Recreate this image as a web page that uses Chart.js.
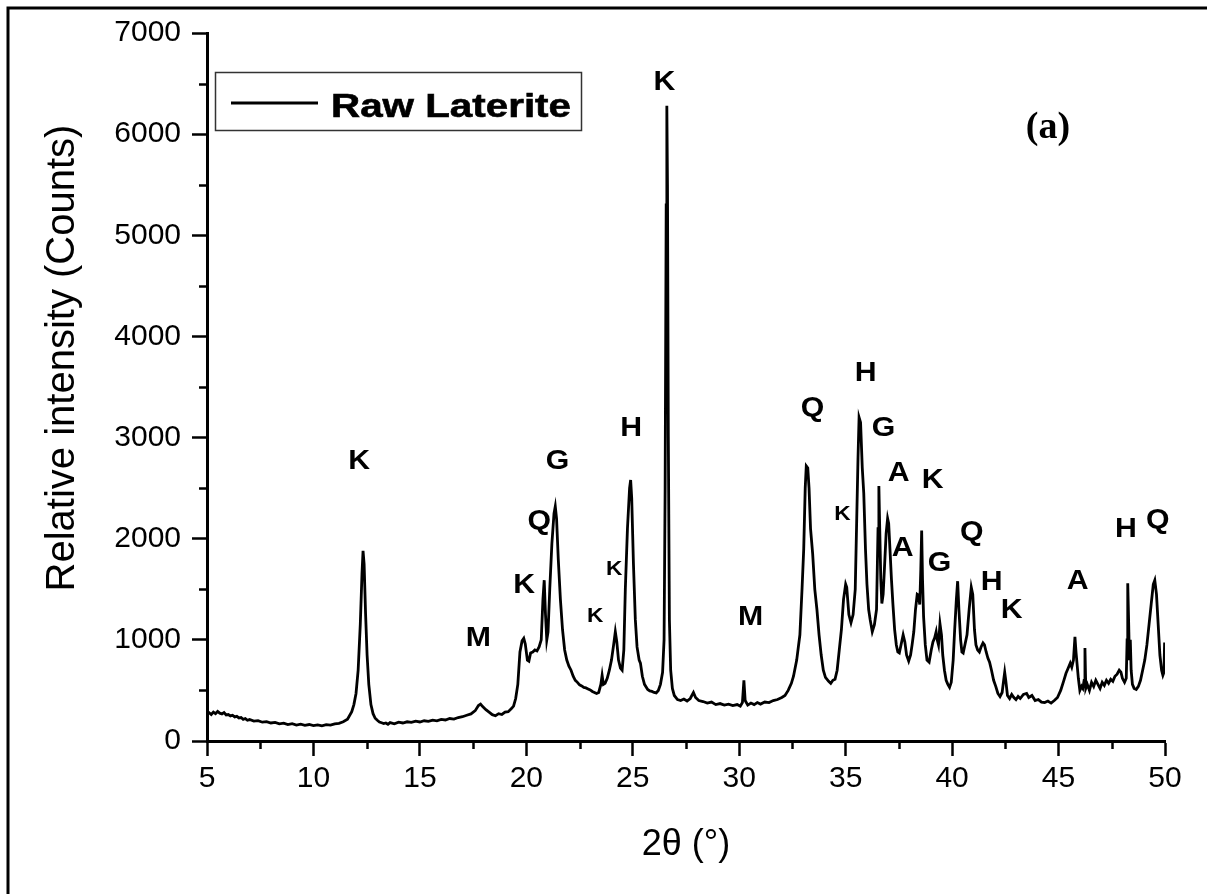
<!DOCTYPE html>
<html><head><meta charset="utf-8">
<script src="https://cdn.jsdelivr.net/npm/chart.js@4.4.0/dist/chart.umd.min.js"></script>
<style>html,body{margin:0;padding:0;background:#fff;}#wrap{width:1207px;height:894px;position:relative;}</style>
</head><body><div id="wrap"><canvas id="c" width="1207" height="894"></canvas></div>
<script>
const seriesName = 'Raw Laterite';
const xTitle = '2\u03B8 (\u00B0)';
const yTitle = 'Relative intensity (Counts)';
const panelTag = '(a)';

const twoTheta = [
5.0,5.1,5.2,5.3,5.4,5.5,5.6,5.7,5.8,5.9,
6.0,6.1,6.2,6.3,6.4,6.5,6.6,6.7,6.8,6.9,
7.0,7.2,7.4,7.6,7.8,8.0,8.2,8.4,8.6,8.8,
9.0,9.2,9.4,9.6,9.8,10.0,10.2,10.4,10.6,10.8,
11.0,11.2,11.4,11.6,11.8,11.9,12.0,12.1,12.2,12.28,
12.33,12.38,12.45,12.52,12.6,12.7,12.8,12.9,13.0,13.1,
13.2,13.3,13.4,13.5,13.6,13.8,14.0,14.2,14.4,14.6,
14.8,15.0,15.2,15.4,15.6,15.8,16.0,16.2,16.4,16.6,
16.8,17.0,17.2,17.4,17.6,17.75,17.85,17.95,18.1,18.25,
18.4,18.55,18.7,18.85,19.0,19.15,19.3,19.4,19.5,19.6,
19.7,19.8,19.88,19.95,20.05,20.12,20.2,20.3,20.4,20.5,
20.6,20.7,20.78,20.84,20.9,20.96,21.02,21.1,21.2,21.3,
21.36,21.42,21.5,21.6,21.7,21.8,21.9,22.0,22.1,22.2,
22.3,22.4,22.5,22.6,22.7,22.8,22.9,23.0,23.1,23.2,
23.3,23.4,23.5,23.56,23.62,23.7,23.8,23.9,24.0,24.1,
24.18,24.25,24.33,24.42,24.5,24.58,24.65,24.75,24.85,24.9,
24.95,25.03,25.12,25.2,25.3,25.36,25.45,25.55,25.7,25.8,
25.9,26.0,26.1,26.2,26.3,26.4,26.47,26.52,26.57,26.6,
26.63,26.67,26.72,26.78,26.86,26.95,27.1,27.25,27.4,27.55,
27.7,27.85,27.95,28.1,28.3,28.5,28.7,28.9,29.1,29.3,
29.5,29.7,29.9,30.05,30.15,30.22,30.28,30.4,30.55,30.7,
30.85,31.0,31.2,31.4,31.6,31.8,32.0,32.15,32.3,32.45,
32.55,32.7,32.85,32.95,33.03,33.1,33.15,33.22,33.28,33.35,
33.45,33.55,33.65,33.75,33.85,33.95,34.05,34.2,34.3,34.4,
34.5,34.6,34.7,34.8,34.9,35.0,35.05,35.15,35.25,35.35,
35.45,35.52,35.58,35.63,35.7,35.78,35.85,35.93,36.0,36.08,
36.15,36.25,36.35,36.45,36.52,36.56,36.6,36.65,36.7,36.76,
36.82,36.9,36.97,37.02,37.08,37.15,37.22,37.3,37.38,37.45,
37.52,37.6,37.7,37.78,37.86,37.96,38.05,38.12,38.2,38.28,
38.36,38.42,38.48,38.53,38.57,38.61,38.66,38.74,38.82,38.92,
39.02,39.1,39.18,39.25,39.3,39.36,39.43,39.5,39.56,39.64,
39.72,39.8,39.88,39.96,40.05,40.12,40.2,40.26,40.32,40.4,
40.46,40.52,40.6,40.7,40.8,40.9,40.97,41.05,41.12,41.2,
41.28,41.36,41.45,41.52,41.6,41.68,41.76,41.85,41.95,42.05,
42.15,42.25,42.35,42.42,42.47,42.52,42.6,42.7,42.8,42.9,
43.0,43.1,43.2,43.35,43.5,43.6,43.75,43.9,44.05,44.2,
44.35,44.5,44.65,44.8,44.95,45.1,45.25,45.35,45.45,45.55,
45.62,45.7,45.77,45.82,45.87,45.93,46.0,46.08,46.14,46.2,
46.24,46.28,46.35,46.45,46.55,46.65,46.75,46.85,46.95,47.05,
47.15,47.25,47.35,47.45,47.55,47.65,47.75,47.85,47.93,48.0,
48.1,48.18,48.22,48.25,48.29,48.33,48.37,48.41,48.47,48.55,
48.65,48.75,48.85,48.95,49.05,49.15,49.25,49.35,49.45,49.52,
49.6,49.68,49.76,49.84,49.9,49.95,49.98,50.0
];

const counts = [
265,280,262,285,270,292,275,268,282,258,
262,248,255,238,244,228,232,214,222,205,
212,196,202,186,192,178,184,170,176,162,
171,158,166,155,163,152,160,150,162,158,
170,175,190,215,290,360,470,700,1150,1650,
1880,1750,1250,850,560,360,270,225,205,188,
180,172,178,165,182,170,186,178,190,184,
196,188,200,194,206,200,214,208,222,216,
232,240,255,268,300,350,365,340,310,285,
260,250,270,262,285,290,320,345,420,560,
880,990,1015,960,800,790,870,880,900,890,
930,1000,1400,1590,1250,1000,1080,1500,1950,2250,
2320,2200,1800,1400,1100,900,800,740,700,640,
600,580,555,545,530,525,515,505,490,480,
470,480,560,650,560,570,620,700,800,950,
1080,980,800,720,700,900,1500,2100,2500,2580,
2400,1760,1200,930,800,770,640,560,510,495,
490,480,475,500,560,680,1000,2500,5300,6280,
5500,3000,1200,700,520,450,410,400,415,395,
420,480,430,400,390,375,385,360,370,355,
365,350,360,345,380,600,400,355,375,360,
380,365,385,380,400,410,430,450,500,570,
640,800,1050,1500,1900,2500,2720,2700,2500,2100,
1850,1500,1300,1050,850,700,630,590,570,600,
610,700,900,1100,1400,1550,1520,1250,1170,1250,
1500,2200,2800,3200,3150,2700,2450,1900,1550,1300,
1200,1080,1150,1300,2100,2520,2100,1600,1360,1450,
1700,2050,2200,2150,1900,1600,1350,1100,950,880,
870,950,1050,980,850,790,850,950,1080,1300,
1450,1440,1350,1700,2080,1600,1230,950,800,780,
900,980,1020,1080,1000,950,1160,1050,850,700,
600,560,530,580,800,1100,1400,1580,1300,1000,
880,870,950,1050,1300,1520,1450,1100,950,900,
880,930,970,950,880,820,780,700,600,540,
470,440,480,600,680,600,450,420,460,430,
410,440,420,460,470,430,450,400,410,385,
380,395,375,400,430,500,600,670,720,770,
730,800,1030,880,760,620,500,540,520,600,
920,520,560,500,580,540,600,560,520,580,
550,600,570,610,590,640,660,700,680,620,
580,620,1000,1560,1200,800,1000,700,560,520,
510,540,600,700,800,950,1150,1350,1550,1590,
1450,1150,850,700,650,680,960,960
];

const xMinorTicks = [7.5,12.5,17.5,22.5,27.5,32.5,37.5,42.5,47.5];
const yMinorTicks = [500,1500,2500,3500,4500,5500,6500];

const peakText = ['K','M','K','Q','G','K','K','H','K','M','Q','K','H','G','A','K','A','G','Q','H','K','A','H','Q'];
const peakX = [12.15,17.74,19.90,20.61,21.46,23.24,24.13,24.93,26.49,30.53,33.44,34.85,35.94,36.78,37.49,39.09,37.68,39.41,40.92,41.86,42.80,45.90,48.16,49.66];
const peakY = [2770,1020,1540,2175,2770,1235,1700,3095,6515,1225,3290,2245,3640,3095,2650,2580,1910,1760,2065,1570,1295,1580,2095,2185];
const peakMinor = [false,false,false,false,false,true,true,false,false,false,false,true,false,false,false,false,false,false,false,false,false,false,false,false];

const points = twoTheta.map((t, i) => ({x: t, y: counts[i]}));

const decor = {
  id: 'decor',
  afterDraw(chart) {
    const {ctx, chartArea, scales} = chart;
    const xs = scales.x, ys = scales.y;
    ctx.save();
    ctx.strokeStyle = '#000';
    ctx.lineWidth = 2.5;
    xMinorTicks.forEach(v => {
      const px = Math.round(xs.getPixelForValue(v)) + 0.5;
      ctx.beginPath(); ctx.moveTo(px, chartArea.bottom); ctx.lineTo(px, chartArea.bottom + 8); ctx.stroke();
    });
    yMinorTicks.forEach(v => {
      const py = Math.round(ys.getPixelForValue(v)) + 0.5;
      ctx.beginPath(); ctx.moveTo(chartArea.left, py); ctx.lineTo(chartArea.left - 8, py); ctx.stroke();
    });
    ctx.lineWidth = 3;
    ctx.beginPath(); ctx.moveTo(1207, 8); ctx.lineTo(8, 8); ctx.lineTo(8, 894); ctx.stroke();
    ctx.save();
    ctx.translate(63, 358);
    ctx.rotate(-Math.PI / 2);
    ctx.fillStyle = '#000';
    ctx.font = '40px "Liberation Sans", Arial, sans-serif';
    ctx.textAlign = 'center';
    ctx.textBaseline = 'middle';
    ctx.fillText(yTitle, 0, 0);
    ctx.restore();
    ctx.lineWidth = 1.5;
    ctx.strokeStyle = '#333';
    ctx.strokeRect(215.5, 72.5, 366, 58);
    ctx.strokeStyle = '#000';
    ctx.lineWidth = 3;
    ctx.beginPath(); ctx.moveTo(231, 103); ctx.lineTo(318, 103); ctx.stroke();
    ctx.fillStyle = '#000';
    ctx.font = 'bold 33px "Liberation Sans", Arial, sans-serif';
    ctx.textAlign = 'left';
    ctx.textBaseline = 'alphabetic';
    const w = ctx.measureText(seriesName).width;
    ctx.save();
    ctx.translate(331, 117);
    ctx.scale(240 / w, 1);
    ctx.fillText(seriesName, 0, 0);
    ctx.lineWidth = 0.6;
    ctx.strokeText(seriesName, 0, 0);
    ctx.restore();
    ctx.font = 'bold 38px "Liberation Serif", "Times New Roman", serif';
    ctx.textAlign = 'center';
    ctx.textBaseline = 'middle';
    ctx.fillText(panelTag, 1048, 128);
    peakText.forEach((t, i) => {
      const px = xs.getPixelForValue(peakX[i]);
      const py = ys.getPixelForValue(peakY[i]);
      ctx.save();
      ctx.translate(px, py);
      ctx.scale(1.08, 1);
      ctx.font = (peakMinor[i] ? 'bold 21px' : 'bold 28px') + ' "Liberation Sans", Arial, sans-serif';
      ctx.textAlign = 'center';
      ctx.textBaseline = 'middle';
      ctx.fillText(t, 0, 0);
      ctx.restore();
    });
    ctx.restore();
  }
};

new Chart(document.getElementById('c'), {
  type: 'line',
  data: {
    datasets: [{
      label: seriesName,
      data: points,
      borderColor: '#000',
      borderWidth: 2.8,
      pointRadius: 0,
      tension: 0,
      fill: false
    }]
  },
  options: {
    responsive: false,
    animation: false,
    devicePixelRatio: 1,
    layout: {padding: {top: 33, right: 42, bottom: 0, left: 0}},
    plugins: {legend: {display: false}, tooltip: {enabled: false}},
    scales: {
      x: {
        type: 'linear',
        min: 5, max: 50,
        afterFit: s => { s.height = 153; },
        border: {display: true, color: '#000', width: 3},
        grid: {display: true, drawOnChartArea: false, drawTicks: true, tickLength: 15, tickWidth: 2.5, tickColor: '#000'},
        ticks: {stepSize: 5, color: '#000', padding: 5, maxRotation: 0, callback: v => String(v), font: {family: '"Liberation Sans", Arial, sans-serif', size: 30}},
        title: {display: true, text: xTitle, color: '#000', padding: {top: 0, bottom: 27}, font: {family: '"Liberation Sans", Arial, sans-serif', size: 36}}
      },
      y: {
        type: 'linear',
        min: 0, max: 7000,
        afterFit: s => { s.width = 207; },
        border: {display: true, color: '#000', width: 3},
        grid: {display: true, drawOnChartArea: false, drawTicks: true, tickLength: 15, tickWidth: 2.5, tickColor: '#000'},
        ticks: {stepSize: 1000, color: '#000', padding: 11, callback: v => String(v), font: {family: '"Liberation Sans", Arial, sans-serif', size: 30}},
        title: {display: false}
      }
    }
  },
  plugins: [decor]
});
</script>
</body></html>
